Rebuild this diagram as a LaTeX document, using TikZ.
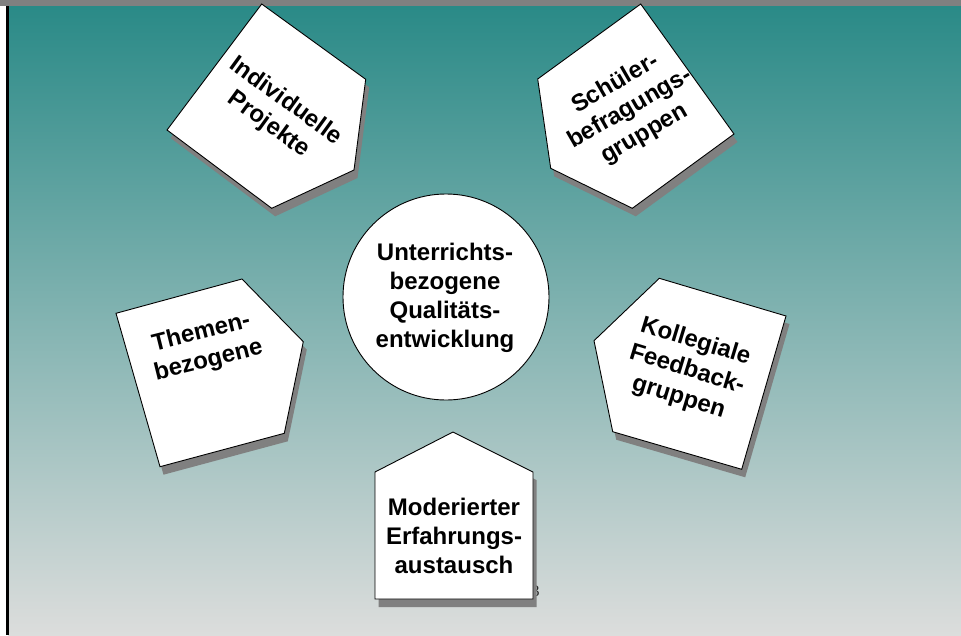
\documentclass[tikz,border=0pt]{standalone}
\usepackage{fontspec}
\setmainfont{Liberation Sans}
\newfontfamily\pagefont{Liberation Serif}
\definecolor{bgTop}{RGB}{42,138,135}
\definecolor{bgBot}{RGB}{220,221,220}
\definecolor{barGray}{RGB}{128,128,128}
\definecolor{shadowGray}{RGB}{128,128,128}
\tikzset{
  pentbox/.style={draw=black, fill=white, line width=0.9pt, line join=miter},
  pentshadow/.style={fill=shadowGray},
  lbl/.style={font=\bfseries\fontsize{24}{29}\selectfont, align=center, inner sep=0pt, text=black},
}
\begin{document}
\begin{tikzpicture}[x=1pt,y=-1pt]
\useasboundingbox (0,0) rectangle (961,635);
% background
\shade[top color=bgTop, bottom color=bgBot] (8,6) rectangle (961,635);
\fill[white] (0,6) rectangle (6,635);
\fill[black] (5.6,6) rectangle (8.6,635);
\fill[barGray] (0,0) rectangle (961,6);
% page number (partly hidden)
\node[font=\pagefont\fontsize{16}{16}\selectfont, inner sep=0pt, text=black!85] (pnum) at (535.5,591) {3};
% shadows
\begin{scope}[shift={(3.5,8)}]
\fill[pentshadow] (261.7,4) -- (365.7,79.3) -- (354,170) -- (271.7,208.3) -- (167,130) -- cycle;
\fill[pentshadow] (640.7,4) -- (734,134) -- (632.3,208.3) -- (550.7,168.3) -- (537.7,79) -- cycle;
\fill[pentshadow] (242,279) -- (303.3,341.7) -- (284.3,433.3) -- (160,466.7) -- (116,313.3) -- cycle;
\fill[pentshadow] (659.3,278.3) -- (786,316) -- (741.7,469.3) -- (612.7,431.7) -- (594,340.7) -- cycle;
\fill[pentshadow] (453,432) -- (533,472) -- (533,599) -- (375,599) -- (375,472) -- cycle;
\end{scope}
% pentagons
\draw[pentbox] (261.7,4) -- (365.7,79.3) -- (354,170) -- (271.7,208.3) -- (167,130) -- cycle;
\draw[pentbox] (640.7,4) -- (734,134) -- (632.3,208.3) -- (550.7,168.3) -- (537.7,79) -- cycle;
\draw[pentbox] (242,279) -- (303.3,341.7) -- (284.3,433.3) -- (160,466.7) -- (116,313.3) -- cycle;
\draw[pentbox] (659.3,278.3) -- (786,316) -- (741.7,469.3) -- (612.7,431.7) -- (594,340.7) -- cycle;
\draw[pentbox] (453,432) -- (533,472) -- (533,599) -- (375,599) -- (375,472) -- cycle;
% labels
\node[lbl, rotate=-36] (tIndiv) at (277,113) {Individuelle\\Projekte};
\node[lbl, rotate=30] (tSchueler) at (630,109) {Schüler-\\befragungs-\\gruppen};
\node[lbl, rotate=14] (tThemen) at (205,347) {Themen-\\bezogene};
\node[lbl, rotate=-17] (tKoll) at (687,370) {Kollegiale\\Feedback-\\gruppen};
\node[lbl] (tMod) at (454,536) {Moderierter\\Erfahrungs-\\austausch};
% centre circle
\node[circle, draw=black, fill=white, line width=0.9pt, minimum size=206pt, inner sep=0pt] (core) at (446,297) {};
\node[lbl] (tCore) at (445,298) {Unterrichts-\\bezogene\\Qualitäts-\\entwicklung};
\end{tikzpicture}
\end{document}
